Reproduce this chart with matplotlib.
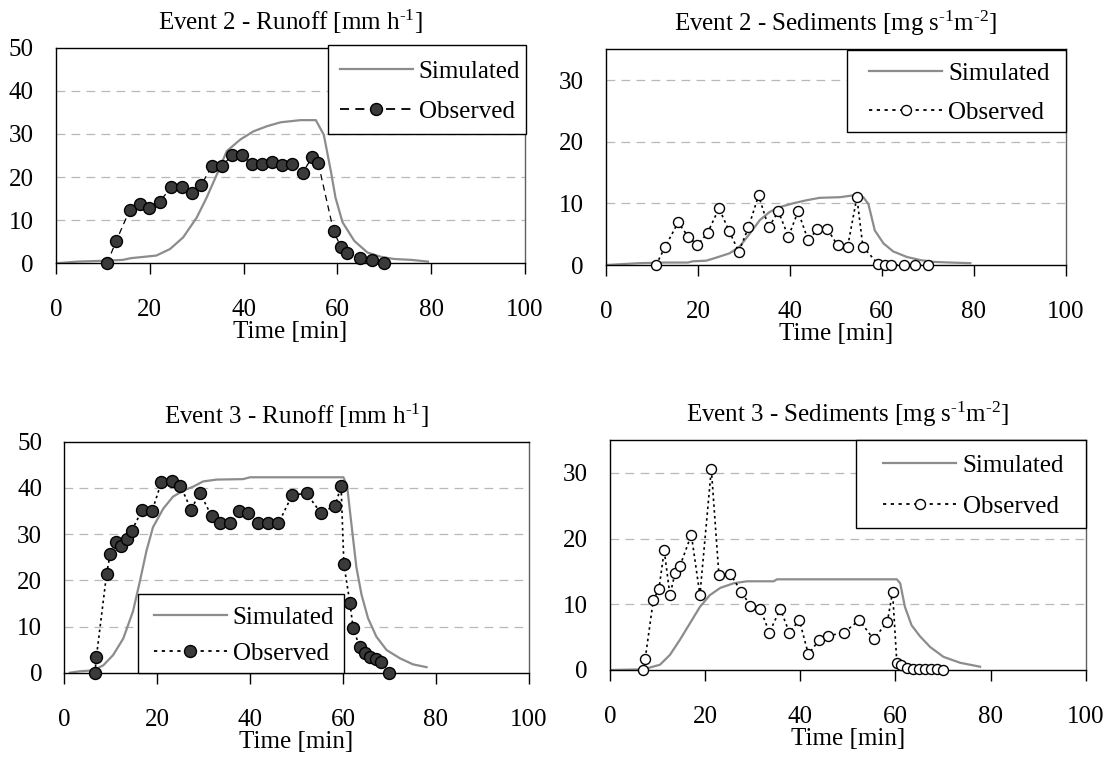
import matplotlib
matplotlib.use("Agg")
import matplotlib.pyplot as plt
from matplotlib.lines import Line2D
from matplotlib.patches import Rectangle

plt.rcParams['font.family'] = ['Liberation Serif', 'DejaVu Serif']
plt.rcParams['mathtext.fontset'] = 'custom'
plt.rcParams['mathtext.rm'] = 'Liberation Serif'
plt.rcParams['mathtext.it'] = 'Liberation Serif:italic'
plt.rcParams['mathtext.bf'] = 'Liberation Serif:bold'

# ---------------- Data ----------------
titles = ["Event 2 - Runoff [mm h$^{\\text{-1}}$]",
          "Event 2 - Sediments [mg s$^{\\text{-1}}$m$^{\\text{-2}}$]",
          "Event 3 - Runoff [mm h$^{\\text{-1}}$]",
          "Event 3 - Sediments [mg s$^{\\text{-1}}$m$^{\\text{-2}}$]"]
xlabel = "Time [min]"
legend_labels = ['Simulated', 'Observed']
x_ticks = [0, 20, 40, 60, 80, 100]
runoff_ticks = [0, 10, 20, 30, 40, 50]
sed_ticks = [0, 10, 20, 30]

# Event 2 observed
t_e2_obs = [10.9, 12.8, 15.7, 17.9, 19.9, 22.1, 24.6, 26.8, 28.9, 31.0, 33.2, 35.4, 37.5, 39.7,
            41.8, 44.0, 46.0, 48.2, 50.4, 52.6, 54.6, 55.9, 59.2, 60.8, 62.0, 64.8, 67.3, 70.0]
runoff_e2_obs = [0, 5.1, 12.3, 13.8, 12.8, 14.3, 17.7, 17.7, 16.4, 18.2, 22.5, 22.5, 25.1, 25.1,
                 23.1, 23.1, 23.5, 22.7, 23.1, 21.0, 24.6, 23.3, 7.4, 3.7, 2.5, 1.2, 0.8, 0.0]
sed_e2_obs = [0, 2.85, 6.9, 4.6, 3.2, 5.2, 9.2, 5.5, 2.15, 6.1, 11.3, 6.1, 8.7, 4.6,
              8.7, 4.0, 5.8, 5.8, 3.2, 3.0, 11.0, 3.0, 0.15, 0, 0, 0, 0, 0]

# Event 2 simulated
t_e2_sim_runoff = [0, 4.6, 10.7, 14.3, 16, 17.9, 21.4, 24.3, 27.1, 30, 32.1, 34.3, 36.4, 39.3, 42.1,
                   45, 47.9, 52.1, 55.4, 57.1, 58.6, 59.6, 61.1, 63.6, 66.4, 69.3, 72.1, 75.7, 79.3]
runoff_e2_sim = [0, 0.4, 0.6, 0.8, 1.2, 1.4, 1.8, 3.3, 6, 10.6, 15.2, 20.6, 26, 28.7, 30.6,
                 31.8, 32.7, 33.2, 33.2, 29.8, 21.4, 15.2, 9.5, 5.2, 2.5, 1.5, 1, 0.8, 0.4]
t_e2_sim_sed = [0, 7.3, 13.1, 17.8, 18.9, 21.8, 23.6, 26.9, 29.1, 31.3, 33.5, 35.6, 37.8, 40.7,
                43.6, 46.5, 50.9, 53.8, 56, 57.1, 58.5, 60.4, 62.5, 65.5, 68.4, 71.3, 74.9, 79.3]
sed_e2_sim = [0, 0.3, 0.4, 0.4, 0.6, 0.7, 1.1, 1.9, 3, 5.1, 7.3, 8.6, 9.4, 10,
              10.5, 10.9, 11, 11.3, 11, 9.9, 5.6, 3.5, 2.2, 1.3, 0.8, 0.5, 0.4, 0.3]

# Event 3 observed
t_e3_obs_runoff = [6.6, 6.9, 9.1, 9.9, 11.1, 12.3, 13.4, 14.5, 16.8, 18.9, 20.9, 23.1, 25.0, 27.3,
                   29.2, 31.7, 33.5, 35.6, 37.7, 39.6, 41.8, 43.9, 46.1, 49.1, 52.2, 55.2, 58.3,
                   59.6, 60.2, 61.5, 62.2, 63.6, 64.7, 65.9, 67.2, 68.3, 70.0]
runoff_e3_obs = [0, 3.3, 21.3, 25.8, 28.2, 27.5, 29.0, 30.7, 35.3, 35.0, 41.2, 41.6, 40.5, 35.3,
                 39.0, 33.9, 32.3, 32.3, 35.0, 34.6, 32.3, 32.3, 32.3, 38.5, 38.8, 34.6, 36.1,
                 40.4, 23.5, 15.1, 9.6, 5.6, 4.2, 3.4, 2.9, 2.3, 0]
t_e3_obs_sed = [6.9, 7.4, 9.1, 10.3, 11.4, 12.6, 13.7, 14.7, 17.1, 18.9, 21.3, 22.9, 25.3, 27.6,
                29.5, 31.6, 33.5, 35.8, 37.7, 39.8, 41.7, 44.0, 45.9, 49.2, 52.4, 55.4, 58.3,
                59.4, 60.3, 61.2, 62.4, 63.8, 65.0, 66.2, 67.5, 68.7, 69.9]
sed_e3_obs = [0, 1.7, 10.6, 12.4, 18.2, 11.4, 14.8, 15.8, 20.6, 11.4, 30.6, 14.4, 14.6, 11.9,
              9.8, 9.3, 5.7, 9.3, 5.7, 7.6, 2.4, 4.6, 5.2, 5.7, 7.6, 4.7, 7.3,
              11.9, 1.1, 0.8, 0.25, 0.1, 0.1, 0.1, 0.1, 0.1, 0]

# Event 3 simulated
t_e3_sim_runoff = [1.2, 3.3, 6.2, 8.4, 10.5, 12.7, 14.8, 16.3, 17.7, 19.1, 21.3, 23.4, 25.6, 27.8,
                   29.9, 32.8, 38.5, 40, 49.3, 60.1, 60.9, 61.9, 62.9, 64, 65.4, 67.2, 69.4,
                   72.3, 75.1, 78]
runoff_e3_sim = [0, 0.3, 0.5, 1.6, 3.8, 7.4, 13.3, 19.9, 26.4, 31.5, 35.5, 38.1, 39.4, 40.3,
                 41.4, 41.8, 41.9, 42.3, 42.3, 42.3, 40.4, 31.5, 22.8, 16.9, 11.8, 7.8, 4.9,
                 3.1, 1.8, 1.2]
t_e3_sim_sed = [0, 7, 10.5, 12.6, 14.7, 16.8, 18.9, 21, 23.2, 26, 28.8, 34.4, 35.1, 47, 60.3,
                61, 62, 63.4, 65.2, 67.3, 70.1, 73.6, 77.8]
sed_e3_sim = [0, 0.1, 0.8, 2.3, 4.6, 7.1, 9.6, 11.4, 12.5, 13.2, 13.5, 13.5, 13.8, 13.8, 13.8,
              13.2, 9.6, 6.8, 5.1, 3.5, 2, 1.1, 0.5]

# ---------------- Figure ----------------
W, H = 1112, 763
fig = plt.figure(figsize=(W / 100, H / 100), dpi=100)

def px_axes(l, t, r, b):
    return fig.add_axes([l / W, 1 - b / H, (r - l) / W, (b - t) / H])

panels = [
    dict(box=(56, 47.7, 525, 263.3), ymax=50, yt=runoff_ticks,
         ts=t_e2_sim_runoff, vs=runoff_e2_sim, to=t_e2_obs, vo=runoff_e2_obs,
         filled=True, ls=(0, (5, 3.5)), lw=0.9, legbox=(328, 45, 526, 134), lsp=0.7),
    dict(box=(606, 49.3, 1065.5, 265), ymax=35, yt=sed_ticks,
         ts=t_e2_sim_sed, vs=sed_e2_sim, to=t_e2_obs, vo=sed_e2_obs,
         filled=False, ls=(0, (1.5, 2)), lw=1.2, legbox=(847, 50, 1066, 132), lsp=0.68),
    dict(box=(64.3, 441.7, 528.7, 672.7), ymax=50, yt=runoff_ticks,
         ts=t_e3_sim_runoff, vs=runoff_e3_sim, to=t_e3_obs_runoff, vo=runoff_e3_obs,
         filled=True, ls=(0, (1.5, 2)), lw=1.2, legbox=(137.7, 594.3, 344.3, 673), lsp=0.55),
    dict(box=(610, 440, 1085.7, 670), ymax=35, yt=sed_ticks,
         ts=t_e3_sim_sed, vs=sed_e3_sim, to=t_e3_obs_sed, vo=sed_e3_obs,
         filled=False, ls=(0, (1.5, 2)), lw=1.2, legbox=(855.7, 440, 1085.7, 528), lsp=0.74),
]

FS = 18
for i, p in enumerate(panels):
    ax = px_axes(*p['box'])
    ax.set_xlim(0, 100)
    ax.set_ylim(0, p['ymax'])
    ax.set_xticks(x_ticks)
    ax.set_yticks(p['yt'])
    for y in p['yt']:
        if 0 < y < p['ymax']:
            ax.axhline(y, color='#b8b8b8', lw=0.9, ls=(0, (7, 5)), zorder=0)
    ax.plot(p['ts'], p['vs'], color='#8c8c8c', lw=1.6, zorder=2)
    mfc = '#3a3a3a' if p['filled'] else 'white'
    ms = 8.6 if p['filled'] else 7.2
    ax.plot(p['to'], p['vo'], color='black', lw=p['lw'], ls=p['ls'], marker='o',
            ms=ms, mfc=mfc, mec='black', mew=1.0, zorder=3, clip_on=False)
    for s in ['left', 'bottom', 'top']:
        ax.spines[s].set_color('black')
        ax.spines[s].set_linewidth(1.0)
    ax.spines['right'].set_color('#606060')
    ax.spines['right'].set_linewidth(1.0)
    ax.tick_params(axis='x', direction='out', length=8, width=1, pad=18, labelsize=FS)
    ax.tick_params(axis='y', length=0, pad=16, labelsize=FS)
    ax.set_xlabel(xlabel, fontsize=FS, labelpad=0)
    ax.set_title(titles[i], fontsize=FS, pad=13)

    # legend frame drawn as a rectangle at the reference position
    l, t, r, b = p['legbox']
    rect = Rectangle((l / W, 1 - b / H), (r - l) / W, (b - t) / H, transform=fig.transFigure,
                     facecolor='white', edgecolor='black', lw=1.0, zorder=4, clip_on=False)
    ax.add_artist(rect)
    handles = [Line2D([], [], color='#8c8c8c', lw=1.6),
               Line2D([], [], color='black', lw=1.3, ls=p['ls'] if i == 0 else (0, (1.8, 2.5)),
                      marker='o', ms=ms, mfc=mfc, mec='black', mew=1.0)]
    cx = (l + r) / 2 + 3
    cy = (t + b) / 2 + 2
    leg = ax.legend(handles, legend_labels, loc='center',
                    bbox_to_anchor=(cx / W, 1 - cy / H), bbox_transform=fig.transFigure,
                    borderaxespad=0, fontsize=FS, frameon=False,
                    handlelength=2.92, handletextpad=0.25, borderpad=0.0,
                    labelspacing=p['lsp'])
    leg.set_zorder(5)

fig.savefig('out.png', dpi=100, facecolor='white')
